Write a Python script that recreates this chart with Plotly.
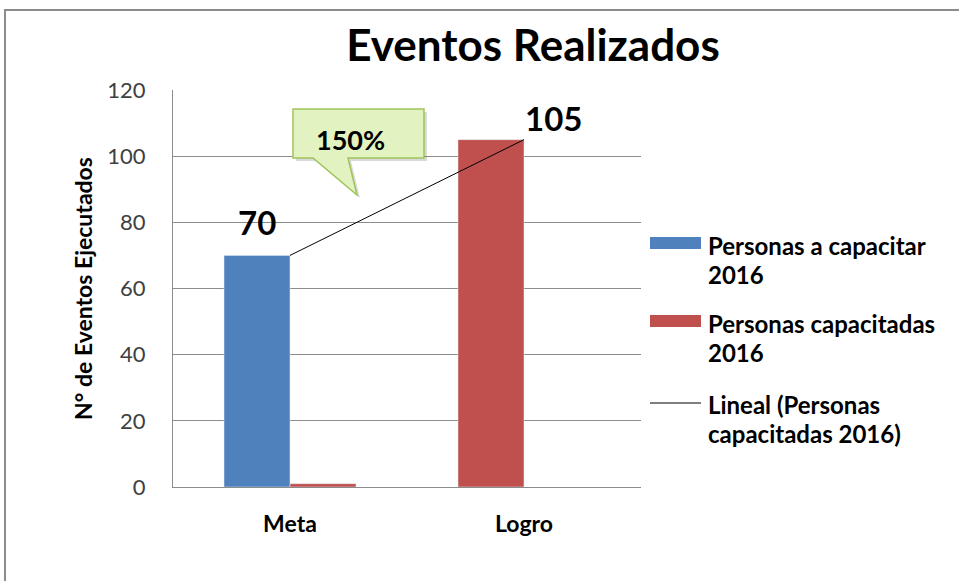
import plotly.graph_objects as go

categories = ["Meta", "Logro"]
personas_a_capacitar = [70, 0]
personas_capacitadas = [1, 105]
tendencia_lineal = [70, 105]
series_names = ["Personas a capacitar 2016", "Personas capacitadas 2016",
                "Lineal (Personas capacitadas 2016)"]
y_ticks = [0, 20, 40, 60, 80, 100, 120]
callout_text = "150%"

BLUE = "#4f81bd"
RED = "#c0504d"
FONT = "Lato"

# plot area in pixels
L, R, T, B = 173, 641, 90, 487
W, H = 959, 581

def px(x):
    return (x - L) / (R - L)

def py(y):
    return (B - y) / (B - T)

fig = go.Figure()
bw = 0.282
fig.add_trace(go.Bar(x=categories, y=personas_a_capacitar, name=series_names[0],
                     marker_color=BLUE, width=bw, offset=-bw, showlegend=False))
fig.add_trace(go.Bar(x=categories, y=personas_capacitadas, name=series_names[1],
                     marker_color=RED, width=bw, offset=[0, -bw], showlegend=False))
fig.add_trace(go.Scatter(x=categories, y=tendencia_lineal, mode="lines",
                         name=series_names[2], line=dict(color="black", width=1),
                         showlegend=False))

shapes = []
annotations = []

# outer chart border
shapes.append(dict(type="rect", xref="paper", yref="paper",
                   x0=px(5), x1=px(1100), y0=py(700), y1=py(10),
                   line=dict(color="#8c8c8c", width=2), layer="below"))

# callout
cb = dict(x0=293, x1=424, y0=109, y1=158, b0=313, b1=348, tx=357, ty=195)
def callout_path(dx=0, dy=0):
    pts = [(cb["x0"], cb["y0"]), (cb["x1"], cb["y0"]), (cb["x1"], cb["y1"]),
           (cb["b1"], cb["y1"]), (cb["tx"], cb["ty"]), (cb["b0"], cb["y1"]),
           (cb["x0"], cb["y1"])]
    return "M " + " L ".join(f"{px(x+dx):.4f},{py(y+dy):.4f}" for x, y in pts) + " Z"

shapes.append(dict(type="path", xref="paper", yref="paper", path=callout_path(3, 3),
                   fillcolor="rgba(0,0,0,0.15)", line=dict(width=0)))
shapes.append(dict(type="path", xref="paper", yref="paper", path=callout_path(),
                   fillcolor="#e2f2c0", line=dict(color="#9fc45a", width=1.5)))
annotations.append(dict(x=px(350), y=py(140), xref="paper", yref="paper",
                        xanchor="center", yanchor="middle",
                        text=f"<b>{callout_text}</b>", showarrow=False,
                        font=dict(family=FONT, size=27, color="black")))

# value labels
annotations.append(dict(x=-0.141, y=80, xref="x", yref="y", text=f"<b>{personas_a_capacitar[0]}</b>",
                        xanchor="center", yanchor="middle",
                        showarrow=False, font=dict(family=FONT, size=33, color="black")))
annotations.append(dict(x=1.124, y=111.5, xref="x", yref="y", text=f"<b>{personas_capacitadas[1]}</b>",
                        xanchor="center", yanchor="middle",
                        showarrow=False, font=dict(family=FONT, size=33, color="black")))

# manual legend
legend_rows = [
    (BLUE, "rect", 243, ["Personas a capacitar", "2016"], [245, 274]),
    (RED, "rect", 321, ["Personas capacitadas", "2016"], [323, 352]),
    ("black", "line", 403, ["Lineal (Personas", "capacitadas 2016)"], [404, 433]),
]
for color, kind, sy, lines, ys in legend_rows:
    if kind == "rect":
        shapes.append(dict(type="rect", xref="paper", yref="paper",
                           x0=px(650), x1=px(701), y0=py(sy + 6), y1=py(sy - 6),
                           fillcolor=color, line=dict(width=0)))
    else:
        shapes.append(dict(type="line", xref="paper", yref="paper",
                           x0=px(650), x1=px(701), y0=py(sy), y1=py(sy),
                           line=dict(color=color, width=1)))
    for txt, yy in zip(lines, ys):
        annotations.append(dict(x=px(706), y=py(yy), xref="paper", yref="paper",
                                xanchor="left", yanchor="middle", text=f"<b>{txt}</b>",
                                showarrow=False,
                                font=dict(family=FONT, size=24, color="black")))

fig.update_layout(
    width=W, height=H,
    margin=dict(l=L, r=W - R, t=T, b=H - B, autoexpand=False),
    paper_bgcolor="white", plot_bgcolor="white",
    barmode="overlay",
    title=dict(text="<b>Eventos Realizados</b>", x=533 / W, xanchor="center",
               y=1 - 46 / H, yanchor="middle", yref="container",
               font=dict(family=FONT, size=44, color="black")),
    xaxis=dict(type="category", range=[-0.5, 1.5], showgrid=False,
               showline=True, linecolor="#8c8c8c", linewidth=1,
               tickfont=dict(family=FONT, size=23, color="black"),
               ticklabelstandoff=16, tickprefix="<b>", ticksuffix="</b>"),
    yaxis=dict(range=[0, 120], tickvals=y_ticks, showgrid=True, gridcolor="#8c8c8c",
               gridwidth=1, showline=True, linecolor="#8c8c8c", linewidth=1,
               zeroline=False, ticklabelstandoff=22,
               tickfont=dict(family=FONT, size=22, color="#404040"),
               title=dict(text="<b>N° de Eventos Ejecutados</b>", standoff=8,
                          font=dict(family=FONT, size=23, color="black"))),
    shapes=shapes, annotations=annotations,
)

fig.write_html("out.html", config={"displayModeBar": False},
               post_script="document.body.style.margin='0';document.body.style.overflow='hidden';")
